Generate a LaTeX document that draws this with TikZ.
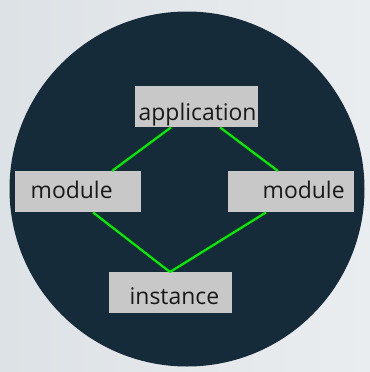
\documentclass[tikz,border=0pt]{standalone}
\usepackage{fontspec}
\setmainfont{Open Sans}
\usetikzlibrary{calc}
\definecolor{bgA}{HTML}{DDE2E6}
\definecolor{bgB}{HTML}{EAEDEF}
\definecolor{disc}{HTML}{162B3A}
\definecolor{boxgray}{HTML}{C8C8C8}
\definecolor{link}{HTML}{00F000}
\tikzset{
  box/.style={draw=none, fill=boxgray, inner sep=0pt, anchor=north west},
  lbl/.style={anchor=base west, inner sep=0pt, font=\fontsize{23}{26}\selectfont, text=black!90},
  edge/.style={draw=link, line width=2.2bp},
}
\begin{document}
\begin{tikzpicture}[x=1bp, y=-1bp]
\useasboundingbox (0,0) rectangle (370,372);
\shade[left color=bgA, right color=bgB] (0,0) rectangle (370,372);
\fill[disc] (187,189) circle[radius=177.5];
% boxes
\node[box, minimum width=123bp, minimum height=41bp] (app) at (135,86) {};
\node[box, minimum width=126bp, minimum height=41bp] (modL) at (15,171) {};
\node[box, minimum width=126bp, minimum height=41bp] (modR) at (228,171) {};
\node[box, minimum width=123bp, minimum height=41bp] (inst) at (109,272) {};
% texts
\node[lbl] (tapp) at (138.5,120) {application};
\node[lbl] (tmodL) at (30.5,198) {module};
\node[lbl] (tmodR) at (262.5,198) {module};
\node[lbl] (tinst) at (129.5,304) {instance};
% connection points
\coordinate (a1) at ($(app.south west)+(36,0)$);
\coordinate (a2) at ($(app.south west)+(85,0)$);
\coordinate (l1) at ($(modL.north west)+(97,0)$);
\coordinate (l2) at ($(modL.south west)+(78,0)$);
\coordinate (r1) at ($(modR.north west)+(50,0)$);
\coordinate (r2) at ($(modR.south west)+(38,0)$);
\coordinate (i1) at ($(inst.north west)+(61,0)$);
\draw[edge] (a1) -- (l1);
\draw[edge] (a2) -- (r1);
\draw[edge] (l2) -- (i1);
\draw[edge] (r2) -- (i1);
\end{tikzpicture}
\end{document}
